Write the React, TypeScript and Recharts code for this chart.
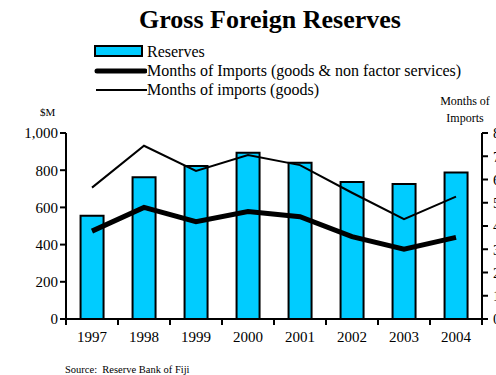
import {
  ComposedChart,
  Bar,
  Line,
  XAxis,
  YAxis,
} from 'recharts'

const years = ['1997', '1998', '1999', '2000', '2001', '2002', '2003', '2004']
const reserves = [555, 762, 822, 894, 840, 737, 726, 787]
const monthsGoodsServices = [3.78, 4.8, 4.19, 4.62, 4.4, 3.54, 3.0, 3.51]
const monthsGoods = [5.65, 7.45, 6.37, 7.05, 6.62, 5.43, 4.29, 5.26]
const leftTicks = [0, 200, 400, 600, 800, 1000]
const rightTicks = [0, 1, 2, 3, 4, 5, 6, 7, 8]

const data = years.map((year, i) => ({
  year,
  reserves: reserves[i],
  gns: monthsGoodsServices[i],
  goods: monthsGoods[i],
}))

const serif = '"Liberation Serif", "Times New Roman", serif'
const BAND = 52

function YearTick(props: any) {
  const { x, y, payload, index } = props
  return (
    <g>
      <line x1={x - BAND / 2} y1={y - 8} x2={x - BAND / 2} y2={y - 2} stroke="#000" strokeWidth={2} />
      {index === years.length - 1 && (
        <line x1={x + BAND / 2} y1={y - 8} x2={x + BAND / 2} y2={y - 2} stroke="#000" strokeWidth={2} />
      )}
      <text x={x} y={y + 15} textAnchor="middle" fontFamily={serif} fontSize={15} fill="#000">
        {payload.value}
      </text>
    </g>
  )
}

function LegendBox() {
  const row = { display: 'flex', alignItems: 'center', height: 19, fontFamily: serif, fontSize: 16, color: '#000' }
  return (
    <div style={{ position: 'absolute', left: 94, top: 42 }}>
      <div style={row}>
        <svg width={53} height={19}>
          <rect x={1} y={4} width={47} height={10} fill="#00ccff" stroke="#000" strokeWidth={2} />
        </svg>
        <span>Reserves</span>
      </div>
      <div style={row}>
        <svg width={53} height={19}>
          <line x1={3} y1={10} x2={51} y2={10} stroke="#000" strokeWidth={5} strokeLinecap="round" />
        </svg>
        <span>Months of Imports (goods &amp; non factor services)</span>
      </div>
      <div style={row}>
        <svg width={53} height={19}>
          <line x1={2} y1={10} x2={53} y2={10} stroke="#000" strokeWidth={2} />
        </svg>
        <span>Months of imports (goods)</span>
      </div>
    </div>
  )
}

export default function App() {
  return (
    <div style={{ position: 'absolute', left: 0, top: 0, width: 496, height: 375, background: '#fff', overflow: 'hidden' }}>
      <ComposedChart
        width={520}
        height={375}
        data={data}
        margin={{ top: 133, right: 0, bottom: 26, left: 0 }}
        barCategoryGap="28%"
      >
        <XAxis
          dataKey="year"
          axisLine={{ stroke: '#000', strokeWidth: 2 }}
          tickLine={false}
          tick={<YearTick />}
          height={30}
          interval={0}
        />
        <YAxis
          yAxisId="left"
          domain={[0, 1000]}
          ticks={leftTicks}
          interval={0}
          width={66}
          axisLine={{ stroke: '#000', strokeWidth: 2 }}
          tickLine={{ stroke: '#000', strokeWidth: 2 }}
          tickSize={6}
          tickFormatter={(v: number) => v.toLocaleString('en-US')}
          tick={{ fill: '#000', fontSize: 15, fontFamily: serif }}
        />
        <YAxis
          yAxisId="right"
          orientation="right"
          domain={[0, 8]}
          ticks={rightTicks}
          interval={0}
          width={38}
          axisLine={{ stroke: '#000', strokeWidth: 2 }}
          tickLine={{ stroke: '#000', strokeWidth: 2 }}
          tickSize={6}
          tickMargin={5}
          tick={{ fill: '#000', fontSize: 15, fontFamily: serif, textAnchor: 'start' }}
        />
        <Bar
          yAxisId="left"
          dataKey="reserves"
          name="Reserves"
          fill="#00ccff"
          stroke="#000"
          strokeWidth={2}
          isAnimationActive={false}
        />
        <Line
          yAxisId="right"
          dataKey="gns"
          name="Months of Imports (goods & non factor services)"
          stroke="#000"
          strokeWidth={5}
          dot={false}
          type="linear"
          isAnimationActive={false}
        />
        <Line
          yAxisId="right"
          dataKey="goods"
          name="Months of imports (goods)"
          stroke="#000"
          strokeWidth={2}
          dot={false}
          type="linear"
          isAnimationActive={false}
        />
      </ComposedChart>
      <div style={{ position: 'absolute', left: 0, width: 540, top: 5, textAlign: 'center', fontFamily: serif, fontWeight: 'bold', fontSize: 26 }}>
        Gross Foreign Reserves
      </div>
      <LegendBox />
      <div style={{ position: 'absolute', left: 40, top: 106, fontFamily: serif, fontSize: 11 }}>$M</div>
      <div style={{ position: 'absolute', left: 430, width: 70, top: 93, textAlign: 'center', fontFamily: serif, fontSize: 12, lineHeight: '17px' }}>
        Months of
        <br />
        Imports
      </div>
      <div style={{ position: 'absolute', left: 65, top: 364, fontFamily: serif, fontSize: 10.5, whiteSpace: 'pre' }}>
        Source:  Reserve Bank of Fiji
      </div>
    </div>
  )
}
